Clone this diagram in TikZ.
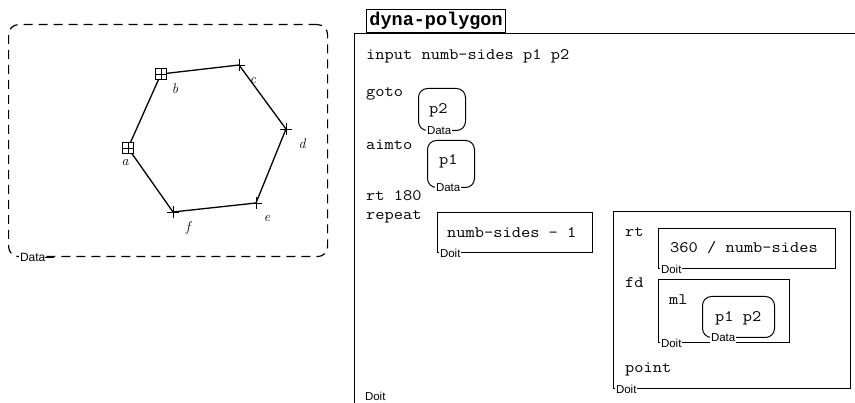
\documentclass[tikz,border=0pt]{standalone}
\usepackage{fontspec}
\newfontfamily\codefont[FakeStretch=1.12]{Latin Modern Mono}
\newfontfamily\titlefont{Liberation Mono}
\newfontfamily\tagfont{Liberation Sans}
\tikzset{
  codetext/.style={font=\codefont\fontsize{16}{18}\selectfont, anchor=base west, inner sep=0pt},
  doitbox/.style={draw, line width=1pt, anchor=north west, inner sep=0pt},
  databox/.style={draw, line width=1pt, rounded corners=9pt, anchor=north west, inner sep=0pt},
  tag/.style={font=\tagfont\fontsize{11.5}{12}\selectfont, fill=white, inner sep=0.8pt, anchor=west},
  lbl/.style={font=\itshape\fontsize{14}{16}\selectfont, inner sep=0pt},
  sqmark/.style={draw, line width=1.2pt, minimum size=11pt, inner sep=0pt,
    path picture={\draw[line width=0.8pt] (path picture bounding box.north) -- (path picture bounding box.south)
      (path picture bounding box.west) -- (path picture bounding box.east);}},
  plusmark/.style={minimum size=12pt, inner sep=0pt,
    path picture={\draw[line width=0.7pt] (path picture bounding box.north) -- (path picture bounding box.south)
      (path picture bounding box.west) -- (path picture bounding box.east);}},
  edge/.style={line width=1.3pt}
}
\begin{document}
\begin{tikzpicture}[x=1pt,y=-1pt]
\useasboundingbox (0,0) rectangle (855,403);
% ---------- left data box with polygon ----------
\node[draw, dashed, dash pattern=on 9pt off 6pt, line width=1.2pt, rounded corners=10pt,
      anchor=north west, minimum width=319pt, minimum height=232pt, inner sep=0pt] (dbox) at (8,24) {};
\node[tag, font=\tagfont\fontsize{12}{13}\selectfont] (dtag) at ([xshift=11pt]dbox.south west) {Data};
\draw[line width=1.2pt] ([xshift=-1pt]dtag.east) -- ++(9pt,0);
\coordinate (a) at (128,148);
\coordinate (b) at (161,74);
\coordinate (c) at (239,65);
\coordinate (d) at (286,129);
\coordinate (e) at (256,203);
\coordinate (f) at (173,212);
\draw[edge] (a) -- (b) -- (c) -- (d) -- (e) -- (f) -- (a);
\node[sqmark, fill=white] (ma) at (a) {};
\node[sqmark, fill=white] (mb) at (b) {};
\node[plusmark] (mc) at (c) {};
\node[plusmark] (md) at (d) {};
\node[plusmark] (me) at (e) {};
\node[plusmark] (mf) at (f) {};
\node[lbl] (la) at (125,162) {a};
\node[lbl] (lb) at (175,89) {b};
\node[lbl] (lc) at (253,80) {c};
\node[lbl] (ld) at (302,144) {d};
\node[lbl] (le) at (267,218) {e};
\node[lbl] (lf) at (188,228) {f};
% ---------- procedure dyna-polygon ----------
\node[doitbox, minimum width=520pt, minimum height=400pt, line width=1.4pt] (main) at (354,33) {};
\node[draw, line width=1.2pt, anchor=south west, minimum width=139pt, minimum height=23pt, inner sep=0pt,
      font=\titlefont\bfseries\fontsize{18.5}{20}\selectfont] (title) at (366,33) {dyna-polygon};
\node[tag] (maintag) at (364,396) {Doit};
\node[codetext] (tinput) at (366,60) {input numb-sides p1 p2};
\node[codetext] (tgoto) at (366,97) {goto};
\node[databox, minimum width=47pt, minimum height=42pt] (bp2) at (418,88) {};
\node[codetext] (tp2) at (429,114) {p2};
\node[tag] (gp2) at ([xshift=8pt]bp2.south west) {Data};
\node[codetext] (taim) at (366,150) {aimto};
\node[databox, minimum width=47pt, minimum height=47pt] (bp1) at (427,140) {};
\node[codetext] (tp1) at (439,165) {p1};
\node[tag] (gp1) at ([xshift=8pt]bp1.south west) {Data};
\node[codetext] (trt) at (366,201) {rt 180};
\node[codetext] (trep) at (366,220) {repeat};
\node[doitbox, minimum width=155pt, minimum height=40pt] (bnum) at (437,212) {};
\node[codetext] (tnum) at (447,238) {numb-sides - 1};
\node[tag] (gnum) at ([xshift=2pt]bnum.south west) {Doit};
% repeat body
\node[doitbox, minimum width=237pt, minimum height=177pt] (bbody) at (613,211) {};
\node[tag] (gbody) at ([xshift=2pt]bbody.south west) {Doit};
\node[codetext] (trt2) at (625,237) {rt};
\node[doitbox, minimum width=177pt, minimum height=40pt] (bdiv) at (658,228) {};
\node[codetext] (tdiv) at (670,253) {360 / numb-sides};
\node[tag] (gdiv) at ([xshift=2pt]bdiv.south west) {Doit};
\node[codetext] (tfd) at (625,288) {fd};
\node[doitbox, minimum width=131pt, minimum height=63pt] (bfd) at (658,279) {};
\node[tag] (gfd) at ([xshift=2pt]bfd.south west) {Doit};
\node[codetext] (tml) at (669,305) {ml};
\node[databox, minimum width=72pt, minimum height=41pt] (bpp) at (702,296) {};
\node[codetext] (tpp) at (715,322) {p1 p2};
\node[tag] (gpp) at ([xshift=8pt]bpp.south west) {Data};
\node[codetext] (tpoint) at (625,373) {point};
\end{tikzpicture}
\end{document}
